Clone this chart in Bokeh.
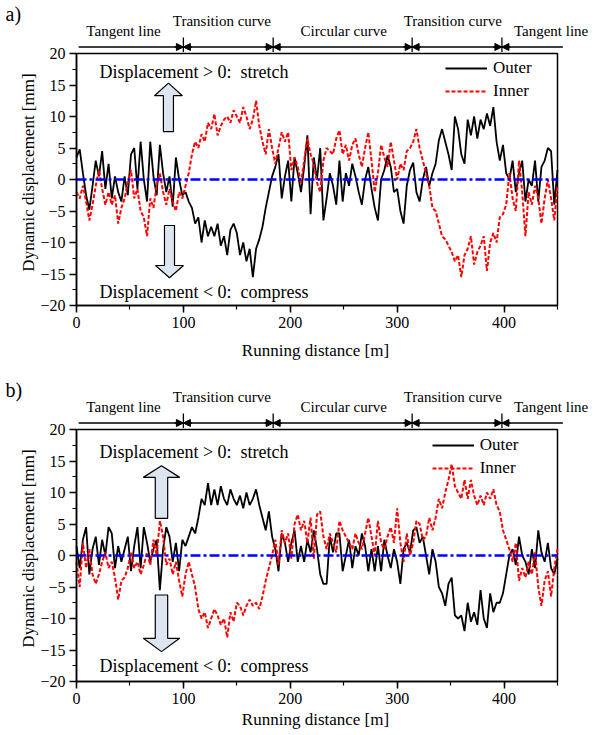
import math
from bokeh.plotting import figure
from bokeh.models import (Range1d, Legend, LegendItem, SingleIntervalTicker,
                          CustomJSTickFormatter, Arrow, NormalHead, LinearAxis)
from bokeh.layouts import column
from bokeh.core.properties import value
from bokeh.embed import file_html
from bokeh.resources import INLINE

FONT = "Liberation Serif"

# ---------------- data ----------------
distance = list(range(0, 451, 3))  # running distance [m]

outer_a = [3.5, 4.8, 1.0, -2.5, -4.8, -1.0, 3.0, 0.5, 4.5, -1.5,
           2.5, -3.0, 0.5, -2.0, -3.5, 0.5, -2.5, 4.0, 5.0, -1.5,
           6.0, 0.0, -3.5, 6.0, 0.5, -2.5, 5.5, 1.0, -2.0, 0.5,
           -4.3, 3.5, 0.0, -2.5, -2.0, -3.5, -4.5, -7.0, -6.0, -10.0,
           -6.5, -9.0, -7.5, -9.0, -7.0, -10.5, -9.0, -12.0, -8.0, -7.0,
           -8.5, -12.0, -10.0, -13.0, -11.0, -15.5, -11.0, -9.5, -7.5, -4.5,
           -2.0, 0.5, 2.0, 4.0, -3.0, 0.5, 3.0, -3.5, 3.5, 1.0,
           -2.0, 2.0, 7.0, -5.5, 3.5, 0.0, 5.0, -6.5, -3.0, 1.0,
           -1.0, -4.0, 3.0, -3.5, 1.0, -1.0, 2.5, 0.5, -2.0, -4.0,
           0.0, 2.0, -1.5, -4.5, -6.5, 0.0, 1.5, 3.8, 2.0, -2.0,
           -1.5, -5.0, -7.0, -1.0, 1.5, 2.7, -2.0, -3.5, 0.0, 2.0,
           -1.0, 1.0, 2.5, 6.2, 8.0, 6.0, 4.0, 1.5, 10.0, 8.0,
           4.0, 2.5, 9.5, 7.0, 10.0, 6.5, 9.5, 8.0, 10.5, 8.5,
           11.5, 6.0, 3.0, 5.5, 1.0, 0.0, 3.0, -2.0, 1.0, 3.0,
           -3.5, 0.0, -1.0, 3.0, -3.5, 2.0, 3.0, 5.0, 4.5, -4.0,
           1.5]

inner_a = [-2.0, -3.0, -1.0, -3.5, -6.5, -4.0, -1.0, 1.5, -1.5, -4.0,
           -2.0, -4.0, -2.5, -7.0, -4.5, -3.0, -0.5, 1.5, -3.0, -1.5,
           -5.0, -6.0, -9.0, -3.0, -4.5, -1.0, 1.0, -2.0, -4.0, -1.5,
           -3.5, -5.0, -2.0, -3.0, -1.0, 1.0, 4.0, 6.0, 5.0, 7.2,
           6.0, 9.0, 8.0, 10.4, 7.0, 8.5, 9.5, 10.0, 9.0, 11.0,
           10.0, 9.0, 11.5, 10.0, 8.0, 9.5, 12.5, 8.5, 6.0, 4.0,
           8.0, 5.0, 2.5, 5.0, 7.5, 6.0, 7.5, 1.5, 3.5, 2.0,
           -0.7, 3.0, 6.5, 4.0, 2.5, -0.5, -2.0, 3.0, 5.0, 4.5,
           4.0, 6.5, 7.8, 4.0, 5.5, 3.0, 5.5, 6.5, 4.0, 2.0,
           5.0, 7.5, 3.0, -2.0, 1.0, 5.5, 3.5, 2.0, 6.0, 3.0,
           0.0, 2.5, 1.5, 4.5, 5.0, 6.0, 8.0, 5.0, 3.0, 1.0,
           -1.0, -4.5, -5.0, -7.0, -9.0, -9.5, -10.5, -11.5, -13.0, -12.0,
           -15.5, -12.0, -11.0, -9.0, -13.5, -11.5, -10.5, -9.0, -14.5, -10.0,
           -8.5, -10.0, -6.0, -5.5, -4.0, 1.0, -3.0, -5.0, 3.0, -2.0,
           -9.0, -2.0, -4.0, -1.0, -3.0, -7.0, -3.0, 0.0, -3.0, -6.5,
           -1.0]

outer_b = [1.5, -2.0, 2.5, 4.5, -3.0, 1.0, 3.0, -1.5, 2.5, 0.0,
           4.5, 3.5, -2.0, 1.5, -1.0, 1.0, 3.0, -2.5, 1.5, 4.5,
           -2.0, 4.5, 2.0, -1.0, 1.0, 2.5, -5.5, 1.0, 4.5, 3.0,
           -1.0, 2.0, -2.5, 2.5, 1.5, 3.0, 4.5, 3.5, 6.0, 9.0,
           8.0, 11.5, 8.0, 10.5, 8.0, 11.0, 9.0, 8.0, 10.5, 9.0,
           8.0, 9.5, 7.5, 10.0, 8.0, 9.0, 10.5, 8.0, 6.0, 4.0,
           7.0, 3.0, 1.0, -2.5, 3.5, 2.0, -1.0, 2.0, 4.0, -1.0,
           1.5, -1.0, 2.5, 0.5, 4.0, 1.0, -3.0, -4.5, -4.5, 3.0,
           0.5, 3.5, 3.5, -2.5, 0.0, 2.5, -2.0, 1.5, 0.0, 3.5,
           1.5, -2.5, 1.0, -2.5, 1.5, -2.5, 2.5, 0.0, -2.0, 1.0,
           -1.0, -4.5, 1.0, 2.0, 0.5, 4.0, 4.5, 2.0, 3.0, 0.0,
           -3.0, 1.0, -1.0, -5.0, -6.0, -8.0, -4.5, -3.5, -9.5, -10.0,
           -9.5, -12.0, -7.5, -10.5, -9.0, -11.0, -5.5, -10.0, -11.5, -6.0,
           -9.0, -7.5, -7.5, -6.0, -3.0, 0.0, 1.0, -1.5, 3.0, 0.0,
           -1.0, -3.0, 1.0, -2.0, 4.0, 0.5, -1.0, 2.0, -2.0, -3.0,
           -0.5]

inner_b = [-1.0, -5.0, 2.0, -2.0, 1.0, -3.0, -4.5, -3.0, -1.0, 0.5,
           -2.0, -1.0, -3.5, -7.0, -4.0, -3.5, -2.0, 0.5, -2.0, -1.0,
           -3.0, -1.5, 0.5, -1.5, 2.5, 0.0, 5.5, 3.0, -1.5, -0.5,
           -3.0, -1.0, -4.0, -6.5, -3.0, -1.0, -3.0, -5.0, -8.5, -10.0,
           -9.0, -11.5, -10.0, -8.5, -9.5, -11.0, -10.0, -13.0, -9.0, -10.5,
           -7.5, -8.0, -9.5, -8.0, -7.0, -8.0, -7.5, -8.5, -6.5, -4.0,
           -2.0, 0.0, 2.5, -1.5, 4.0, 2.0, 3.5, -0.5, 5.0, 6.5,
           4.0, 5.5, 2.0, 6.0, -0.5, 6.5, 7.0, 3.0, 1.0, 3.5,
           2.0, 0.5, 5.5, 4.0, 3.0, 2.0, 1.0, 3.5, 2.0, 1.0,
           3.5, 6.0, 3.0, 0.0, 5.5, 2.0, 1.0, 3.0, 4.5, 2.0,
           7.5, 2.0, -1.0, 3.5, 0.0, 2.0, 5.5, 5.0, 2.5, 3.0,
           6.0, 4.0, 6.0, 9.0, 7.5, 10.0, 12.0, 14.5, 11.0, 10.0,
           9.0, 12.0, 9.0, 12.0, 9.5, 8.0, 9.5, 8.0, 10.0, 9.0,
           10.5, 8.0, 7.0, 4.0, 2.5, 1.0, -1.0, 2.0, -4.0, -2.0,
           -3.5, -1.0, -3.0, 0.5, -5.0, -8.0, -4.0, -2.5, -6.5, -2.0,
           1.0]

section_bounds = [100, 184, 314, 398]          # m
section_line = [2, 455]                        # m
section_labels = ["Tangent line", "Transition curve", "Circular curve",
                  "Transition curve", "Tangent line"]
section_label_x = [44, 136, 250, 352, 444]     # m
section_label_high = [False, True, False, True, False]

x_ticks_interval = 100
y_ticks_interval = 5

# ---------------- layout constants (pixels) ----------------
W = 605
FRAME_L, FRAME_R = 76, 48
FRAME_TOP = 53
FRAME_H = 252
X0, X1 = 0, 450
Y0, Y1 = -20, 20
PX_PER_M = (W - FRAME_L - FRAME_R) / (X1 - X0)
PX_PER_MM = FRAME_H / (Y1 - Y0)
ARROW_FILL = "#dde5f0"


def block_arrow(cx, y_tail, y_neck, y_tip, shaft_half, head_half):
    xs = [cx - shaft_half, cx - shaft_half, cx - head_half, cx,
          cx + head_half, cx + shaft_half, cx + shaft_half]
    ys = [y_tail, y_neck, y_neck, y_tip, y_neck, y_neck, y_tail]
    return xs, ys


def style_axis(ax):
    ax.axis_line_width = 1.5
    ax.axis_line_color = "black"
    ax.major_tick_line_width = 1.5
    ax.minor_tick_line_width = 1.2
    ax.major_tick_line_color = "black"
    ax.minor_tick_line_color = "black"
    ax.major_tick_in = 0
    ax.major_tick_out = 7
    ax.minor_tick_in = 0
    ax.minor_tick_out = 4
    ax.major_label_text_font = FONT
    ax.major_label_text_font_size = "16px"
    ax.major_label_text_color = "black"
    ax.major_label_standoff = 4


def make_panel(letter, outer, inner, canvas_h, xtitle_gap, text_y, up, down, legend_px):
    frame_bottom = FRAME_TOP + FRAME_H
    y_top = Y1 + FRAME_TOP / PX_PER_MM
    y_bot = Y0 - (canvas_h - frame_bottom) / PX_PER_MM

    def py(px):  # data y of a pixel row measured from the panel top
        return y_top - px / PX_PER_MM

    def pxx(px):  # data x of a pixel column measured from the panel left
        return X0 + (px - FRAME_L) / PX_PER_M

    p = figure(width=W, height=canvas_h,
               x_range=Range1d(pxx(0), pxx(W)), y_range=Range1d(y_bot, y_top),
               x_axis_type=None, y_axis_type=None, min_border=0,
               outline_line_color=None, toolbar_location=None, output_backend="svg")
    p.grid.visible = False

    xaxis = LinearAxis(fixed_location=Y0, bounds=(X0, X1),
                       ticker=SingleIntervalTicker(interval=x_ticks_interval, num_minor_ticks=2))
    yaxis = LinearAxis(fixed_location=X0, bounds=(Y0, Y1),
                       ticker=SingleIntervalTicker(interval=y_ticks_interval, num_minor_ticks=2),
                       formatter=CustomJSTickFormatter(
                           code="return tick < 0 ? '\u2212' + String(-tick) : String(tick);"))
    style_axis(xaxis)
    style_axis(yaxis)
    p.add_layout(xaxis, "below")
    p.add_layout(yaxis, "left")

    # frame box
    p.quad(left=[X0], right=[X1], bottom=[Y0], top=[Y1], fill_color=None,
           line_color="black", line_width=1.5)

    # axis titles
    p.text(x=[pxx(27.5)], y=[py(172)], text=["Dynamic displacement [mm]"], angle=math.pi / 2,
           text_font=value(FONT), text_font_size="17px", text_align="center",
           text_baseline="middle", text_color="black")
    p.text(x=[pxx(315)], y=[py(frame_bottom + xtitle_gap)], text=["Running distance [m]"],
           text_font=value(FONT), text_font_size="17px", text_align="center",
           text_baseline="middle", text_color="black")

    # section bar above the frame
    line_y = py(46.5)
    p.text(x=[pxx(5)], y=[py(13.5)], text=[letter], text_font=value(FONT),
           text_font_size="20px", text_align="left", text_baseline="middle", text_color="black")
    p.segment(x0=[section_line[0]], y0=[line_y], x1=[section_line[1]], y1=[line_y],
              line_color="black", line_width=1.3)
    p.segment(x0=section_bounds, y0=[py(37)] * len(section_bounds),
              x1=section_bounds, y1=[py(51.5)] * len(section_bounds),
              line_color="black", line_width=1.3)
    for d in section_bounds:
        for side in (-1, 1):
            p.add_layout(Arrow(end=NormalHead(size=7, fill_color="black", line_color="black",
                                              line_width=1),
                               x_start=d + side * 8, y_start=line_y, x_end=d, y_end=line_y,
                               line_color="black", line_width=1.3))
    p.text(x=section_label_x,
           y=[py(20) if h else py(30.5) for h in section_label_high],
           text=section_labels, text_font=value(FONT), text_font_size="15px",
           text_align="center", text_baseline="middle", text_color="black")

    # block arrows and annotations
    for spec in (up, down):
        xs, ys = block_arrow(*spec)
        p.patch(xs, ys, fill_color=ARROW_FILL, line_color="black", line_width=1.2)
    p.text(x=[21.5, 21.5], y=text_y,
           text=["Displacement > 0:\u00a0 stretch", "Displacement < 0:\u00a0 compress"],
           text_font=value(FONT), text_font_size="18px", text_align="left",
           text_baseline="middle", text_color="black")

    r_out = p.line(distance, outer, line_color="black", line_width=1.8)
    r_in = p.line(distance, inner, line_color="#ff0000", line_width=2.0, line_dash="4 2")

    p.segment(x0=[X0], y0=[0], x1=[X1], y1=[0], line_color="#0000ff",
              line_width=2.5, line_dash="10 3 3 3")

    lx, ly_bottom = legend_px
    legend = Legend(items=[LegendItem(label="Outer", renderers=[r_out]),
                           LegendItem(label="Inner", renderers=[r_in])],
                    location=(lx, canvas_h - ly_bottom), orientation="vertical",
                    label_text_font=FONT, label_text_font_size="17px",
                    label_text_color="black",
                    glyph_width=42, glyph_height=20, label_standoff=6,
                    spacing=3, padding=0, margin=0,
                    border_line_color=None, background_fill_alpha=0)
    p.add_layout(legend)
    return p


panel_a = make_panel("a)", outer_a, inner_a, 376, 45, [17.0, -17.8],
                     (86, 7.6, 13.3, 15.3, 4.7, 13.1),
                     (87, -7.3, -13.65, -15.6, 4.7, 13.1),
                     (445, 100.7))
panel_b = make_panel("b)", outer_b, inner_b, 359, 38, [16.4, -17.5],
                     (79.5, 5.9, 12.4, 14.24, 5.8, 17.0),
                     (79.5, -6.27, -13.14, -15.26, 5.8, 17.0),
                     (431.7, 102.3))

layout = column(panel_a, panel_b, spacing=0)
open("out.html", "w").write(file_html(layout, INLINE))
